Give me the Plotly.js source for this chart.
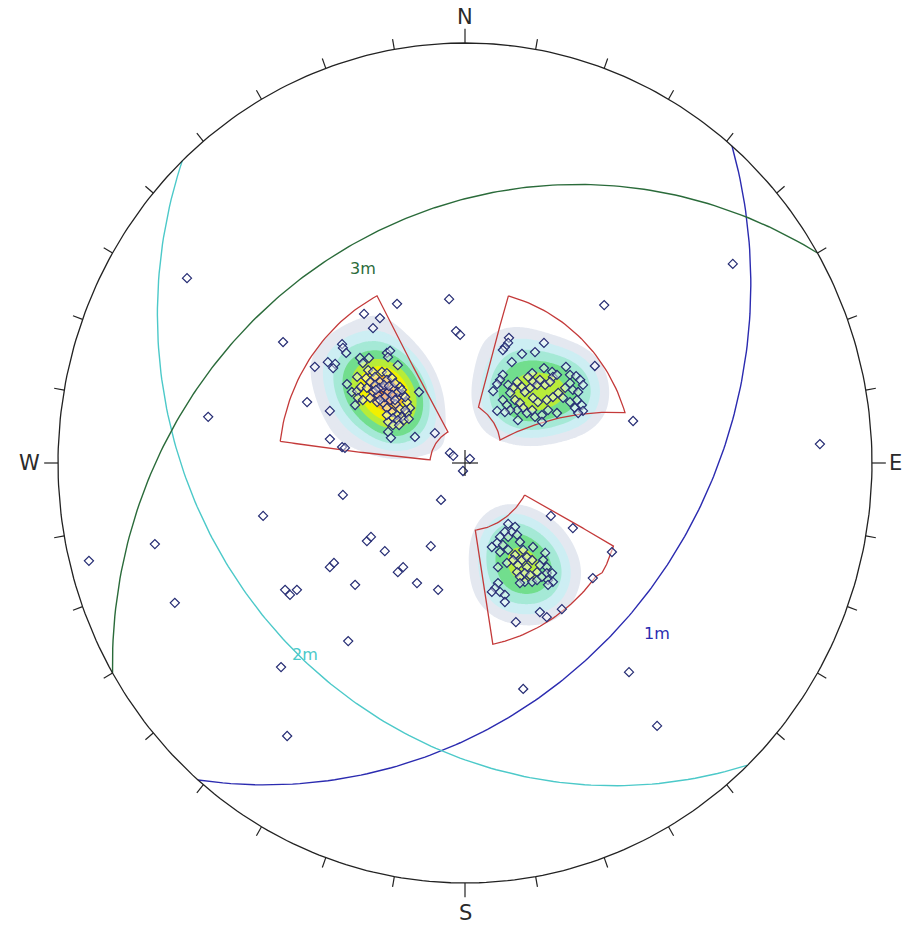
<!DOCTYPE html>
<html><head><meta charset="utf-8">
<script src="https://cdn.plot.ly/plotly-3.0.1.min.js"></script>
<style>html,body{margin:0;padding:0;background:#fff}</style>
</head><body>
<div id="chart" style="width:905px;height:929px"></div>
<script>
// ---------- DATA (net coordinates: east, north; primitive radius = 1) ----------
// scattered poles
const poleE = [-0.683,0.658,-0.167,-0.039,-0.022,-0.012,0.342,-0.447,-0.631,0.413,0.872,-0.074,-0.037,-0.029,0.012,-0.005,-0.059,-0.300,-0.496,-0.762,-0.924,-0.241,-0.231,-0.197,-0.084,-0.152,-0.165,-0.332,-0.322,-0.270,-0.118,-0.066,-0.442,-0.430,-0.413,-0.713,-0.287,-0.452,0.143,0.403,0.472,-0.437];
const poleN = [0.440,0.474,0.379,0.390,0.314,0.305,0.376,0.288,0.110,0.100,0.045,0.071,0.024,0.017,0.010,-0.019,-0.088,-0.076,-0.126,-0.193,-0.233,-0.186,-0.176,-0.210,-0.198,-0.248,-0.260,-0.248,-0.238,-0.290,-0.286,-0.302,-0.302,-0.314,-0.302,-0.333,-0.424,-0.486,-0.538,-0.498,-0.626,-0.650];
// set 1 poles (NW)
const set1E = [-0.248,-0.209,-0.226,-0.302,-0.300,-0.292,-0.337,-0.319,-0.324,-0.369,-0.192,-0.184,-0.189,-0.258,-0.236,-0.251,-0.165,-0.238,-0.226,-0.204,-0.192,-0.265,-0.243,-0.233,-0.221,-0.209,-0.192,-0.179,-0.290,-0.278,-0.265,-0.256,-0.241,-0.226,-0.214,-0.201,-0.189,-0.177,-0.160,-0.263,-0.251,-0.233,-0.270,-0.216,-0.201,-0.184,-0.167,-0.152,-0.143,-0.135,-0.143,-0.192,-0.179,-0.167,-0.155,-0.177,-0.165,-0.189,-0.177,-0.113,-0.388,-0.332,-0.189,-0.182,-0.123,-0.332,-0.302,-0.295,
  -0.221,-0.211,-0.199,-0.187,-0.172,-0.165,-0.155,-0.147,-0.170,-0.160,-0.147,-0.197,-0.209,-0.219,-0.179,-0.172,-0.192,-0.150,-0.162,-0.138];
const set1N = [0.355,0.345,0.321,0.283,0.274,0.262,0.240,0.236,0.226,0.229,0.262,0.267,0.252,0.250,0.250,0.238,0.233,0.221,0.217,0.217,0.214,0.205,0.202,0.193,0.205,0.193,0.198,0.202,0.188,0.169,0.171,0.181,0.179,0.169,0.162,0.179,0.169,0.179,0.181,0.155,0.150,0.155,0.138,0.145,0.143,0.150,0.155,0.162,0.145,0.131,0.119,0.131,0.121,0.114,0.110,0.107,0.102,0.098,0.090,0.169,0.145,0.124,0.074,0.060,0.062,0.057,0.038,0.036,
  0.186,0.179,0.186,0.183,0.190,0.169,0.174,0.157,0.140,0.129,0.126,0.157,0.150,0.174,0.162,0.150,0.114,0.102,0.090,0.105];
// set 2 poles (NE)
const set2E = [0.108,0.106,0.098,0.093,0.194,0.172,0.140,0.115,0.194,0.248,0.319,0.165,0.155,0.167,0.214,0.216,0.226,0.093,0.086,0.079,0.258,0.273,0.283,0.290,0.258,0.246,0.265,0.278,0.069,0.106,0.118,0.111,0.128,0.140,0.147,0.160,0.177,0.184,0.197,0.209,0.093,0.103,0.123,0.135,0.143,0.128,0.111,0.167,0.179,0.201,0.216,0.229,0.241,0.258,0.275,0.287,0.270,0.290,0.278,0.079,0.098,0.152,0.165,0.172,0.189,0.204,0.226,0.130,0.189];
const set2N = [0.298,0.286,0.276,0.269,0.286,0.264,0.260,0.240,0.226,0.229,0.231,0.214,0.205,0.193,0.217,0.205,0.210,0.210,0.198,0.188,0.210,0.207,0.198,0.186,0.190,0.179,0.174,0.169,0.171,0.186,0.179,0.167,0.193,0.181,0.169,0.179,0.186,0.198,0.186,0.193,0.150,0.138,0.150,0.143,0.131,0.126,0.126,0.155,0.145,0.150,0.157,0.167,0.155,0.145,0.150,0.138,0.131,0.124,0.119,0.124,0.121,0.119,0.126,0.110,0.114,0.126,0.119,0.102,0.098];
// set 3 poles (SE)
const set3E = [0.211,0.265,0.361,0.314,0.106,0.123,0.115,0.098,0.086,0.106,0.128,0.135,0.079,0.066,0.093,0.106,0.086,0.167,0.143,0.123,0.118,0.103,0.130,0.140,0.152,0.165,0.152,0.081,0.197,0.192,0.184,0.201,0.177,0.128,0.135,0.147,0.160,0.147,0.135,0.165,0.177,0.189,0.201,0.214,0.204,0.216,0.204,0.081,0.074,0.066,0.086,0.098,0.098,0.184,0.201,0.238,0.125];
const set3N = [-0.126,-0.155,-0.212,-0.274,-0.145,-0.152,-0.164,-0.164,-0.176,-0.176,-0.171,-0.188,-0.190,-0.200,-0.195,-0.207,-0.212,-0.200,-0.207,-0.219,-0.231,-0.238,-0.243,-0.231,-0.224,-0.231,-0.248,-0.248,-0.214,-0.231,-0.243,-0.248,-0.260,-0.260,-0.271,-0.262,-0.267,-0.283,-0.286,-0.283,-0.279,-0.271,-0.262,-0.262,-0.279,-0.283,-0.290,-0.286,-0.298,-0.307,-0.307,-0.314,-0.331,-0.355,-0.367,-0.348,-0.379];

// mean planes (great circles)
const planeNames = ['1m','2m','3m'];
const planeDipDir = [131, 226, 330];
const planeDip = [33, 27, 29];

// set windows: vertices as azimuth (deg) and net radius
const win1Az = [276.5, 331.5, 330.5, 275];
const win1R  = [0.457, 0.453, 0.085, 0.086];
const win2Az = [15, 73, 57.5, 14];
const win2R  = [0.412, 0.411, 0.102, 0.137];
const win3Az = [117.5, 118.5, 127.5, 130, 171, 171];
const win3R  = [0.165, 0.415, 0.427, 0.420, 0.437, 0.162];

// density contour bands: lower bound (fraction of max) and fill colour
const bandLevel = [0.12, 0.20, 0.30, 0.42, 0.56, 0.69, 0.85, 0.95];
const bandColor = ['#e4e8f0','#cdeef3','#a5e9d6','#72de8e','#b8ec3a','#f2f000','#f8b820','#f08020'];

const compassLabels = ['N','E','S','W'];
const tickAz = [0,10,20,30,40,50,60,70,80,90,100,110,120,130,140,150,160,170,180,190,200,210,220,230,240,250,260,270,280,290,300,310,320,330,340,350];

// ---------- helpers ----------
const D2R = Math.PI/180;
function pt(az, r){ return [r*Math.sin(az*D2R), r*Math.cos(az*D2R)]; }

function greatCircle(dd, dip){
  const xs=[], ys=[];
  for(let a=-90;a<=90;a+=1){
    const p = Math.atan(Math.tan(dip*D2R)*Math.cos(a*D2R));
    const r = Math.tan((Math.PI/2 - p)/2);
    const q = pt(dd+a, r); xs.push(q[0]); ys.push(q[1]);
  }
  return [xs, ys];
}
function windowPath(az, rr){
  const xs=[], ys=[]; const n=az.length;
  for(let i=0;i<n;i++){
    const a0=az[i], a1=az[(i+1)%n], r0=rr[i], r1=rr[(i+1)%n];
    const steps=40;
    for(let k=0;k<steps;k++){
      const t=k/steps; const q=pt(a0+(a1-a0)*t, r0+(r1-r0)*t);
      xs.push(q[0]); ys.push(q[1]);
    }
  }
  xs.push(xs[0]); ys.push(ys[0]);
  return [xs, ys];
}

// ---------- density grid from all poles ----------
const allE = poleE.concat(set1E, set2E, set3E);
const allN = poleN.concat(set1N, set2N, set3N);
const gx=[], gy=[]; const g0=-0.62, gs=0.006, gn=208;
for(let i=0;i<gn;i++){ gx.push(g0+i*gs); gy.push(g0+i*gs); }
const h=0.055, inv=1/(2*h*h);
const z=[]; let zmax=0;
for(let j=0;j<gn;j++){
  const row=[];
  for(let i=0;i<gn;i++){
    let s=0;
    for(let k=0;k<allE.length;k++){
      const dx=gx[i]-allE[k], dy=gy[j]-allN[k];
      const d2=dx*dx+dy*dy;
      if(d2<0.05) s+=Math.exp(-d2*inv);
    }
    row.push(s); if(s>zmax) zmax=s;
  }
  z.push(row);
}
for(let j=0;j<gn;j++) for(let i=0;i<gn;i++) z[j][i]/=zmax;

// fine uniform contour levels, each region coloured by the band it falls in
const cStart=0.02, cSize=0.01, cEnd=0.99;
const nc = Math.round((cEnd-cStart)/cSize)+1;
function bandOf(v){ let c='rgba(255,255,255,0)'; bandLevel.forEach((L,i)=>{ if(v>=L-1e-9) c=bandColor[i]; }); return c; }
const cscale=[];
for(let k=0;k<=nc;k++){
  const mid = k===0 ? cStart-cSize/2 : cStart+(k-1)*cSize+cSize/2;
  cscale.push([k/nc, bandOf(mid)]);
}

const traces=[];
traces.push({type:'contour', x:gx, y:gy, z:z, colorscale:cscale, showscale:false,
  contours:{coloring:'fill', start:cStart, end:cEnd, size:cSize, showlines:false},
  line:{width:0, smoothing:1.3}, hoverinfo:'skip'});

[[win1Az,win1R],[win2Az,win2R],[win3Az,win3R]].forEach(w=>{
  const p=windowPath(w[0],w[1]);
  traces.push({type:'scatter', mode:'lines', x:p[0], y:p[1], line:{color:'#c43a3a', width:1.3}, hoverinfo:'skip'});
});

const gcColors=['#2b2bb0','#4cc9c9','#2a6b3a'];
planeNames.forEach((nm,i)=>{
  const g=greatCircle(planeDipDir[i], planeDip[i]);
  traces.push({type:'scatter', mode:'lines', x:g[0], y:g[1], line:{color:gcColors[i], width:1.4}, hoverinfo:'skip', name:nm});
});

traces.push({type:'scatter', mode:'markers', x:allE, y:allN,
  marker:{symbol:'diamond', size:7, color:'rgba(255,255,255,0.45)', line:{color:'#232a72', width:1.2}}, hoverinfo:'skip'});

// primitive circle
const cx=[], cy=[];
for(let a=0;a<=360;a+=1){ const q=pt(a,1); cx.push(q[0]); cy.push(q[1]); }
traces.push({type:'scatter', mode:'lines', x:cx, y:cy, line:{color:'#222', width:1.3}, hoverinfo:'skip'});

// ticks
const tx=[], ty=[];
tickAz.forEach(a=>{
  const len = (a%90===0) ? 1.034 : 1.025;
  const p0=pt(a,1), p1=pt(a,len);
  tx.push(p0[0],p1[0],null); ty.push(p0[1],p1[1],null);
});
// centre cross
tx.push(-0.032,0.032,null,0,0,null); ty.push(0,0,null,-0.031,0.031,null);
traces.push({type:'scatter', mode:'lines', x:tx, y:ty, line:{color:'#222', width:1.2}, hoverinfo:'skip'});

const compassPos = [[0,1.062],[1.058,0],[0,-1.072],[-1.07,0]];
const ann = compassLabels.map((t,i)=>({x:compassPos[i][0], y:compassPos[i][1], text:t, showarrow:false,
  font:{family:'DejaVu Sans, Verdana, sans-serif', size:21, color:'#2a2a2a'}, xanchor:'center', yanchor:'middle'}));
const planeLabelPos = [[0.472,-0.405],[-0.393,-0.457],[-0.251,0.464]];
planeNames.forEach((nm,i)=>ann.push({x:planeLabelPos[i][0], y:planeLabelPos[i][1], text:nm, showarrow:false,
  font:{family:'DejaVu Sans, Verdana, sans-serif', size:16, color:gcColors[i]}, xanchor:'center', yanchor:'middle'}));

const layout = {
  width:905, height:929, autosize:false, showlegend:false,
  margin:{l:0,r:0,t:0,b:0}, paper_bgcolor:'#fff', plot_bgcolor:'#fff',
  xaxis:{range:[-465/407, 440/407], visible:false, fixedrange:true},
  yaxis:{range:[-466/420, 463/420], visible:false, fixedrange:true},
  annotations:ann
};
Plotly.newPlot('chart', traces, layout, {staticPlot:true, displayModeBar:false});
</script>
</body></html>
